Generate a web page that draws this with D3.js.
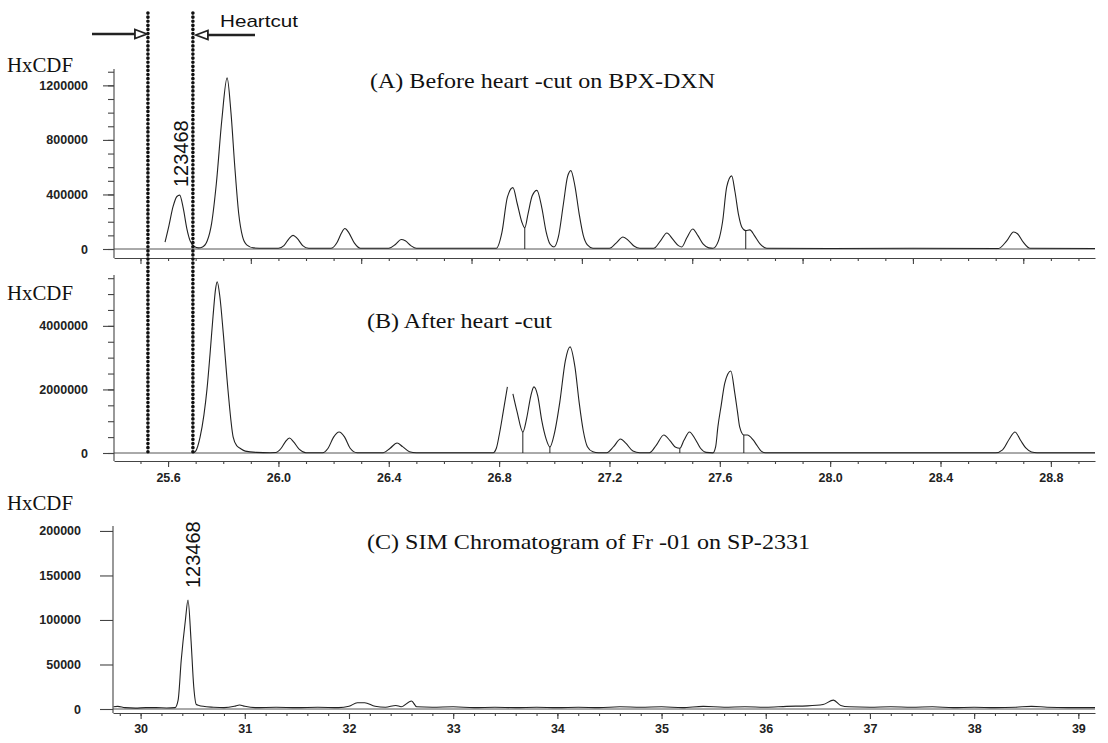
<!DOCTYPE html>
<html>
<head>
<meta charset="utf-8">
<script src="https://cdnjs.cloudflare.com/ajax/libs/d3/7.8.5/d3.min.js"></script>
<style>
body { margin: 0; background: #fff; }
svg { display: block; }
.tick text { font-family: "Liberation Sans", Arial, sans-serif; font-weight: bold; font-size: 12.5px; fill: #222; }
.tick line, .domain { stroke: #444; stroke-width: 1.1; }
.trace { fill: none; stroke: #222; stroke-width: 1.1; }
.serif { font-family: "Liberation Serif", "Times New Roman", serif; fill: #111; }
.sans { font-family: "Liberation Sans", Arial, sans-serif; fill: #111; }
</style>
</head>
<body>
<script>
// heart-cut window (min)
var heartcut = [25.527, 25.69];

// (A) before heart-cut, BPX-DXN  [time, abundance]
var traceA = [
  [25.589, 50000], [25.603, 170000], [25.618, 310000], [25.632, 385000], [25.642, 395000],
  [25.655, 300000], [25.668, 150000], [25.680, 60000], [25.695, 18000], [25.71, 8000],
  [25.725, 15000], [25.742, 60000], [25.758, 190000], [25.775, 480000], [25.795, 950000],
  [25.814, 1255000], [25.828, 1000000], [25.842, 600000], [25.856, 260000], [25.87, 90000],
  [25.885, 30000], [25.91, 8000], [25.95, 5000], [26.0, 6000], [26.02, 25000],
  [26.038, 75000], [26.053, 100000], [26.068, 78000], [26.088, 25000], [26.11, 5000],
  [26.19, 5000], [26.213, 50000], [26.228, 115000], [26.241, 150000], [26.255, 120000],
  [26.275, 45000], [26.297, 6000], [26.40, 5000], [26.425, 35000], [26.445, 70000],
  [26.46, 60000], [26.48, 25000], [26.5, 5000], [26.79, 5000], [26.81, 120000],
  [26.83, 380000], [26.85, 450000], [26.866, 330000], [26.882, 200000], [26.893, 155000],
  [26.905, 260000], [26.92, 390000], [26.937, 430000], [26.955, 300000], [26.97, 130000],
  [26.985, 35000], [26.999, 15000], [27.015, 90000], [27.033, 330000], [27.048, 530000],
  [27.06, 575000], [27.075, 460000], [27.09, 260000], [27.105, 100000], [27.12, 30000],
  [27.14, 6000], [27.2, 5000], [27.225, 45000], [27.249, 88000], [27.27, 60000],
  [27.29, 20000], [27.31, 5000], [27.36, 5000], [27.385, 60000], [27.408, 117000],
  [27.43, 70000], [27.45, 25000], [27.462, 15000], [27.48, 80000], [27.502, 147000],
  [27.52, 100000], [27.54, 35000], [27.56, 8000], [27.575, 5000], [27.595, 60000],
  [27.61, 200000], [27.625, 455000], [27.643, 536000], [27.655, 420000], [27.668, 250000],
  [27.68, 160000], [27.694, 135000], [27.709, 140000], [27.725, 100000], [27.745, 40000],
  [27.77, 5000], [28.0, 4000], [28.3, 5000], [28.61, 4000], [28.64, 60000],
  [28.665, 125000], [28.68, 110000], [28.70, 50000], [28.725, 5000], [28.96, 4000]
];
var dropsA = [[26.893, 155000], [27.694, 135000]];

// (B) after heart-cut (null = break in trace)
var traceB = [
  [25.69, 5000], [25.70, 60000], [25.716, 500000], [25.73, 1200000], [25.741, 2000000],
  [25.752, 3100000], [25.763, 4300000], [25.772, 5150000], [25.778, 5390000], [25.788, 4900000],
  [25.8, 3780000], [25.817, 2000000], [25.836, 500000], [25.85, 220000], [25.861, 150000],
  [25.88, 60000], [25.92, 20000], [25.97, 10000], [25.99, 15000], [26.01, 150000],
  [26.025, 350000], [26.04, 472000], [26.055, 350000], [26.075, 120000], [26.1, 10000],
  [26.16, 10000], [26.18, 150000], [26.2, 500000], [26.22, 660000], [26.24, 500000],
  [26.26, 150000], [26.285, 10000], [26.38, 8000], [26.405, 150000], [26.43, 315000],
  [26.45, 200000], [26.475, 40000], [26.5, 8000], [26.778, 8000], [26.79, 150000],
  [26.80, 550000], [26.815, 1300000], [26.83, 2080000], null, [26.85, 1860000],
  [26.865, 1300000], [26.886, 661000], [26.9, 1100000], [26.915, 1800000], [26.926, 2080000],
  [26.94, 1800000], [26.955, 1000000], [26.97, 450000], [26.984, 190000], [27.0, 600000],
  [27.02, 1600000], [27.04, 2900000], [27.057, 3340000], [27.075, 2700000], [27.09, 1600000],
  [27.105, 700000], [27.12, 200000], [27.14, 40000], [27.16, 8000], [27.19, 8000],
  [27.215, 200000], [27.24, 441000], [27.26, 300000], [27.285, 60000], [27.31, 8000],
  [27.345, 8000], [27.37, 250000], [27.397, 567000], [27.42, 380000], [27.44, 180000],
  [27.455, 150000], [27.47, 400000], [27.49, 661000], [27.51, 450000], [27.53, 150000],
  [27.55, 20000], [27.575, 5000], [27.585, 200000], [27.593, 820000], [27.605, 1500000],
  [27.618, 2200000], [27.64, 2580000], [27.654, 1900000], [27.664, 1300000], [27.672, 820000],
  [27.687, 567000], [27.70, 567000], [27.72, 420000], [27.734, 250000], [27.75, 60000],
  [27.765, 8000], [28.2, 8000], [28.6, 8000], [28.625, 100000], [28.65, 450000],
  [28.67, 661000], [28.69, 400000], [28.71, 150000], [28.73, 30000], [28.75, 8000],
  [28.96, 8000]
];
var dropsB = [[26.886, 661000], [26.984, 190000], [27.455, 150000], [27.687, 567000]];

// (C) SIM chromatogram on SP-2331
var traceC = [
  [29.74, 2500], [29.78, 3000], [29.85, 1500], [29.95, 1000], [30.05, 1500],
  [30.15, 1500], [30.25, 1200], [30.33, 1500], [30.36, 10000], [30.39, 55000],
  [30.43, 100000], [30.455, 122500], [30.484, 77000], [30.51, 25000], [30.535, 5000],
  [30.56, 4000], [30.6, 3000], [30.7, 2000], [30.8, 1500], [30.9, 3000],
  [30.95, 4500], [31.0, 3000], [31.1, 1500], [31.3, 2000], [31.5, 1500],
  [31.7, 2000], [31.9, 1500], [32.0, 3000], [32.08, 7000], [32.15, 7000],
  [32.25, 3000], [32.35, 2000], [32.45, 4000], [32.5, 2500], [32.6, 9000],
  [32.65, 2500], [32.8, 2000], [33.0, 2500], [33.2, 1500], [33.4, 2000],
  [33.6, 1500], [33.8, 2000], [34.0, 1500], [34.2, 2000], [34.4, 1500],
  [34.6, 2500], [34.8, 2000], [35.0, 2500], [35.2, 1500], [35.4, 3000],
  [35.6, 2000], [35.8, 2500], [36.0, 2000], [36.2, 3000], [36.4, 3500],
  [36.55, 5000], [36.65, 10000], [36.72, 4000], [36.8, 2500], [37.0, 2000],
  [37.2, 2500], [37.4, 2000], [37.6, 2500], [37.8, 1500], [38.0, 2000],
  [38.2, 1500], [38.4, 2000], [38.55, 3000], [38.7, 2000], [38.9, 1500],
  [39.16, 1500]
];

var yTicksA = [0, 400000, 800000, 1200000];
var yTicksB = [0, 2000000, 4000000];
var yTicksC = [0, 50000, 100000, 150000, 200000];
var xTicksA = [25.5, 25.9, 26.3, 26.7, 27.1, 27.5, 27.9, 28.3, 28.7];
var xTicksB = [25.6, 26.0, 26.4, 26.8, 27.2, 27.6, 28.0, 28.4, 28.8];
var xTicksC = [30, 31, 32, 33, 34, 35, 36, 37, 38, 39];

var yLabel = 'HxCDF';
var titles = ['(A) Before heart -cut on BPX-DXN', '(B) After heart -cut', '(C) SIM Chromatogram of Fr -01 on SP-2331'];
var peakName = '123468';
var peakTimes = [25.64, 30.455];

var svg = d3.select('body').append('svg')
  .attr('width', 1108)
  .attr('height', 743);

var xHeart = d3.scaleLinear().domain([25.404, 28.96]).range([114, 1095]);
var xSim = d3.scaleLinear().domain([29.735, 39.16]).range([113, 1095]);

function drawPanel(p) {
  var g = svg.append('g');
  var x0 = p.x.range()[0], x1 = p.x.range()[1];

  // baseline
  g.append('line')
    .attr('x1', x0).attr('x2', x1)
    .attr('y1', p.y(0)).attr('y2', p.y(0))
    .attr('stroke', '#555').attr('stroke-width', 1);

  // y axis
  if (p.minorY) {
    g.append('g').attr('transform', 'translate(' + x0 + ',0)')
      .call(d3.axisLeft(p.y).tickValues(p.minorY).tickSize(6).tickFormat(''))
      .select('.domain').remove();
  }
  g.append('g').attr('transform', 'translate(' + x0 + ',0)')
    .call(d3.axisLeft(p.y).tickValues(p.yTicks).tickSize(p.tickLen).tickPadding(p.pad).tickFormat(d3.format('d')))
    .select('.domain').remove();
  g.append('line')
    .attr('x1', x0).attr('x2', x0)
    .attr('y1', p.top).attr('y2', p.axisY)
    .attr('stroke', '#444').attr('stroke-width', 1.1);

  // x axis
  g.append('g').attr('transform', 'translate(0,' + p.axisY + ')')
    .call(d3.axisBottom(p.x).tickValues(p.minorX).tickSize(3).tickFormat('').tickSizeOuter(0));
  g.append('g').attr('transform', 'translate(0,' + p.axisY + ')')
    .call(d3.axisBottom(p.x).tickValues(p.xTicks).tickSize(6).tickPadding(p.xPad)
      .tickFormat(p.xFormat ? p.xFormat : '').tickSizeOuter(0))
    .select('.domain').remove();

  // chromatogram trace
  var line = d3.line()
    .defined(function(d) { return d !== null; })
    .x(function(d) { return p.x(d[0]); })
    .y(function(d) { return p.y(d[1]); })
    .curve(d3.curveMonotoneX);
  g.append('path').attr('class', 'trace').attr('d', line(p.trace));

  // integration drop lines
  g.selectAll('.drop').data(p.drops || []).enter().append('line')
    .attr('class', 'drop')
    .attr('x1', function(d) { return p.x(d[0]); })
    .attr('x2', function(d) { return p.x(d[0]); })
    .attr('y1', function(d) { return p.y(d[1]); })
    .attr('y2', p.y(0))
    .attr('stroke', '#222').attr('stroke-width', 1);

  g.append('text').attr('class', 'serif')
    .attr('x', 7).attr('y', p.labelY)
    .attr('font-size', 20)
    .attr('textLength', 66).attr('lengthAdjust', 'spacingAndGlyphs')
    .text(yLabel);

  g.append('text').attr('class', 'serif')
    .attr('x', p.titleX).attr('y', p.titleY)
    .attr('font-size', 21.5)
    .attr('textLength', p.titleLen).attr('lengthAdjust', 'spacingAndGlyphs')
    .text(p.title);

  return g;
}

drawPanel({
  x: xHeart,
  y: d3.scaleLinear().domain([0, 1320000]).range([249, 69]),
  top: 69, axisY: 258,
  yTicks: yTicksA, minorY: d3.range(0, 1300001, 100000), tickLen: 11, pad: 15,
  xTicks: xTicksA, minorX: d3.range(25.5, 28.95, 0.1), xPad: 6,
  trace: traceA, drops: dropsA,
  labelY: 72, title: titles[0], titleX: 370, titleY: 88, titleLen: 345
});

drawPanel({
  x: xHeart,
  y: d3.scaleLinear().domain([0, 5600000]).range([453, 275]),
  top: 275, axisY: 461,
  yTicks: yTicksB, minorY: d3.range(0, 5500001, 500000), tickLen: 11, pad: 15,
  xTicks: xTicksB, minorX: d3.range(25.5, 28.95, 0.1), xPad: 6, xFormat: d3.format('.1f'),
  trace: traceB, drops: dropsB,
  labelY: 300, title: titles[1], titleX: 367, titleY: 328, titleLen: 185
});

var yC = d3.scaleLinear().domain([0, 205000]).range([709, 526.5]);
drawPanel({
  x: xSim,
  y: yC,
  top: 526, axisY: 713,
  yTicks: yTicksC, tickLen: 13, pad: 19,
  xTicks: xTicksC, minorX: d3.range(29.8, 39.1, 0.2), xPad: 5, xFormat: d3.format('d'),
  trace: traceC,
  labelY: 510, title: titles[2], titleX: 367, titleY: 549, titleLen: 443
});

// peak labels (rotated)
svg.append('text').attr('class', 'sans')
  .attr('font-size', 20)
  .attr('transform', 'translate(' + (xHeart(peakTimes[0]) + 9) + ',187) rotate(-90)')
  .text(peakName);
svg.append('text').attr('class', 'sans')
  .attr('font-size', 20)
  .attr('transform', 'translate(' + (xSim(peakTimes[1]) + 12) + ',588) rotate(-90)')
  .text(peakName);

// heart-cut window markers
svg.selectAll('.cut').data(heartcut).enter().append('line')
  .attr('class', 'cut')
  .attr('x1', function(d) { return xHeart(d); })
  .attr('x2', function(d) { return xHeart(d); })
  .attr('y1', 13).attr('y2', 452)
  .attr('stroke', '#111')
  .attr('stroke-width', 3.6)
  .attr('stroke-linecap', 'round')
  .attr('stroke-dasharray', '0.1,4');

var cutL = xHeart(heartcut[0]) - 1, cutR = xHeart(heartcut[1]) + 3;
svg.append('line').attr('x1', 92).attr('x2', cutL - 10).attr('y1', 34).attr('y2', 34)
  .attr('stroke', '#222').attr('stroke-width', 2.6);
svg.append('path')
  .attr('d', 'M' + cutL + ',34 L' + (cutL - 12) + ',29.5 L' + (cutL - 12) + ',38.5 Z')
  .attr('fill', '#fff').attr('stroke', '#222').attr('stroke-width', 1.8);
svg.append('line').attr('x1', cutR + 10).attr('x2', 255).attr('y1', 35).attr('y2', 35)
  .attr('stroke', '#222').attr('stroke-width', 2.6);
svg.append('path')
  .attr('d', 'M' + cutR + ',35 L' + (cutR + 12) + ',30.5 L' + (cutR + 12) + ',39.5 Z')
  .attr('fill', '#fff').attr('stroke', '#222').attr('stroke-width', 1.8);

svg.append('text').attr('class', 'sans')
  .attr('x', 220).attr('y', 27)
  .attr('font-size', 17)
  .attr('textLength', 78).attr('lengthAdjust', 'spacingAndGlyphs')
  .text('Heartcut');
</script>
</body>
</html>
